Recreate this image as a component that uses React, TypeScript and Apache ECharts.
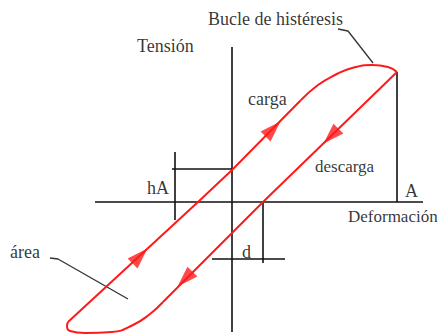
import React, { useEffect, useRef } from "react";
import * as echarts from "echarts";

// Diagram geometry in pixel-like coordinates (x right, y down)
const loadingLine: number[][] = [[68, 322], [198, 202], [232, 170], [301, 100]];
const topCurve: number[][] = [[301, 100], [318, 85], [335, 75], [352, 68], [372, 65], [388, 67], [397, 72]];
const unloadingLine: number[][] = [[397, 72], [263, 202], [232, 233], [163, 302]];
const bottomCurve: number[][] = [[163, 302], [150, 314], [133, 325], [112, 332], [85, 333], [70, 331], [67, 326], [68, 322]];

const axisV: number[][] = [[232, 47], [232, 332]];
const axisH: number[][] = [[95, 202], [423, 202]];
const amplitudeLine: number[][] = [[397, 72], [397, 202]];
const hAVertical: number[][] = [[175, 152], [175, 220]];
const hAHorizontal: number[][] = [[172, 169], [232, 169]];
const dVertical: number[][] = [[263, 202], [263, 263]];
const dHorizontal: number[][] = [[212, 259], [285, 259]];
const bucleLeader: number[][] = [[338, 29], [348, 31], [373, 63]];
const areaLeader: number[][] = [[50, 258], [58, 259], [128, 299]];

const arrowsUp: number[][] = [[273, 129], [140, 256]];
const arrowsDown: number[][] = [[331, 136], [185, 279]];

const labelTexts: string[] = ["Bucle de histéresis", "Tensión", "carga", "descarga", "hA", "A", "Deformación", "d", "área"];
const labelPos: number[][] = [[208, 19], [137, 46], [248, 99], [315, 166], [147, 188], [405, 191], [348, 216], [242, 252], [10, 252]];
const labelSize: number[] = [18, 18, 18, 17, 18, 18, 17, 18, 18];

export default function App() {
  const ref = useRef<HTMLDivElement>(null);
  useEffect(() => {
    document.body.style.margin = "0";
    const chart = echarts.init(ref.current!, undefined, { renderer: "svg" });
    const red = "#ff1a1a";
    const black = "#111111";
    const line = (data: number[][], color: string, width: number, smooth = false) => ({
      type: "line",
      data,
      smooth,
      symbol: "none",
      silent: true,
      lineStyle: { color, width },
      z: color === red ? 3 : 2,
    });
    const font = "'Liberation Serif', 'Times New Roman', serif";
    chart.setOption({
      animation: false,
      grid: { left: 0, right: 0, top: 0, bottom: 0 },
      xAxis: { type: "value", min: 0, max: 441, show: false },
      yAxis: { type: "value", min: 0, max: 334, inverse: true, show: false },
      series: [
        line(axisV, black, 1.6),
        line(axisH, black, 1.6),
        line(amplitudeLine, black, 1.6),
        line(hAVertical, black, 1.6),
        line(hAHorizontal, black, 1.6),
        line(dVertical, black, 1.6),
        line(dHorizontal, black, 1.6),
        line(bucleLeader, "#333", 1.3),
        line(areaLeader, "#333", 1.3),
        line(loadingLine, red, 2),
        line(topCurve, red, 2, true),
        line(unloadingLine, red, 2),
        line(bottomCurve, red, 2, true),
        {
          type: "scatter",
          data: arrowsUp,
          symbol: "triangle",
          symbolSize: [14, 21],
          symbolRotate: -45,
          itemStyle: { color: red },
          silent: true,
          z: 4,
        },
        {
          type: "scatter",
          data: arrowsDown,
          symbol: "triangle",
          symbolSize: [14, 21],
          symbolRotate: 135,
          itemStyle: { color: red },
          silent: true,
          z: 4,
        },
        {
          type: "scatter",
          data: labelPos.map((p, i) => ({ value: p, name: labelTexts[i] })),
          symbolSize: 0,
          silent: true,
          z: 5,
          label: {
            show: true,
            position: "inside",
            align: "left",
            verticalAlign: "middle",
            formatter: (p: any) => p.name,
            color: "#000",
            fontFamily: font,
            fontSize: 18,
          },
          labelLayout: (params: any) => ({ fontSize: labelSize[params.dataIndex] }),
        },
      ],
    });
    return () => chart.dispose();
  }, []);
  return <div ref={ref} style={{ width: 441, height: 334 }} />;
}
